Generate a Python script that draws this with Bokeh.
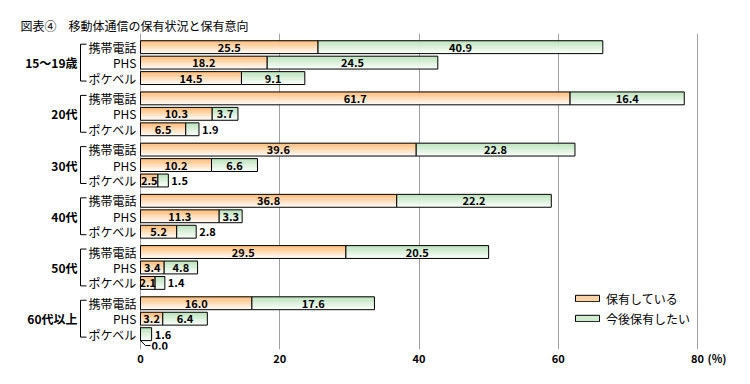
from bokeh.plotting import figure
from bokeh.models import Range1d, ColumnDataSource, Legend, LegendItem, FixedTicker
from bokeh.transform import dodge
from bokeh.core.properties import value
from bokeh.embed import file_html
from bokeh.resources import INLINE

# ---------------- data ----------------
chart_title = "図表④　移動体通信の保有状況と保有意向"
groups = ["15～19歳", "20代", "30代", "40代", "50代", "60代以上"]
devices = ["携帯電話", "PHS", "ポケベル"]
own = [[25.5, 18.2, 14.5], [61.7, 10.3, 6.5], [39.6, 10.2, 2.5],
       [36.8, 11.3, 5.2], [29.5, 3.4, 2.1], [16.0, 3.2, 0.0]]
want = [[40.9, 24.5, 9.1], [16.4, 3.7, 1.9], [22.8, 6.6, 1.5],
        [22.2, 3.3, 2.8], [20.5, 4.8, 1.4], [17.6, 6.4, 1.6]]
series_names = ["保有している", "今後保有したい"]
x_ticks = [0, 20, 40, 60, 80]
unit_label = "(%)"

# ---------------- layout ----------------
W, H = 734, 368
ZERO_PX = 140.0            # figure x of value 0
SCALE = 557.0 / 80.0       # px per %
PX = 1.0 / SCALE           # % per px
x_start = -ZERO_PX / SCALE
x_end = (W - ZERO_PX) / SCALE
FRAME_TOP, FRAME_BOT = 33.0, 352.0   # y data == page px
ROW0, GROUP_PITCH, ROW_PITCH, BAR_H = 46.8, 51.7, 15.6, 13.0
FONT = "Noto Sans CJK JP"
N_STRIPS = 9

def lerp(c1, c2, t):
    return "#%02x%02x%02x" % tuple(int(round(a + (b - a) * t)) for a, b in zip(c1, c2))

ORANGE = ((255, 188, 120), (255, 250, 244))
GREEN = ((188, 226, 188), (248, 253, 248))

p = figure(width=W, height=H, output_backend="svg", toolbar_location=None,
           x_range=Range1d(x_start, x_end), y_range=Range1d(FRAME_BOT, FRAME_TOP),
           min_border_left=0, min_border_right=0, min_border_top=int(FRAME_TOP),
           min_border_bottom=int(H - FRAME_BOT))
p.title.text = chart_title
p.title.align = "left"
p.title.offset = 20
p.title.standoff = 0
p.title.text_font = FONT
p.title.text_font_size = "12px"
p.title.text_font_style = "normal"
p.title.text_color = "black"

p.outline_line_color = None
p.yaxis.visible = False
p.ygrid.visible = False
unit_pos = x_ticks[-1] + 19.5 * PX
p.xaxis.ticker = FixedTicker(ticks=x_ticks + [unit_pos])
p.xaxis.major_label_overrides = {unit_pos: unit_label}
p.xgrid.ticker = FixedTicker(ticks=x_ticks)
p.xgrid.grid_line_color = "#a0a0a0"
p.xaxis.axis_line_color = None
p.xaxis.major_tick_line_color = None
p.xaxis.minor_tick_line_color = None
p.xaxis.major_tick_out = 0
p.xaxis.major_tick_in = 0
p.xaxis.major_label_standoff = 0
p.xaxis.major_label_text_font = FONT
p.xaxis.major_label_text_font_size = "11px"
p.xaxis.major_label_text_font_style = "bold"
p.xaxis.major_label_text_color = "black"

ys, own_v, want_v = [], [], []
for gi in range(len(groups)):
    for di in range(len(devices)):
        ys.append(ROW0 + gi * GROUP_PITCH + di * ROW_PITCH)
        own_v.append(own[gi][di])
        want_v.append(want[gi][di])

src_own = ColumnDataSource(dict(y=ys, left=[0.0] * len(ys), right=own_v))
src_want = ColumnDataSource(dict(y=ys, left=own_v, right=[a + b for a, b in zip(own_v, want_v)]))

legend_items = []
for src, cols, name in ((src_own, ORANGE, series_names[0]), (src_want, GREEN, series_names[1])):
    strips = []
    for k in range(N_STRIPS):
        off = -BAR_H / 2 + (k + 0.5) * BAR_H / N_STRIPS
        r = p.hbar(y=dodge("y", off), left="left", right="right", height=BAR_H / N_STRIPS + 0.4,
                   source=src, fill_color=lerp(cols[0], cols[1], k / (N_STRIPS - 1)), line_color=None)
        strips.append(r)
    outline = p.hbar(y="y", left="left", right="right", height=BAR_H, source=src,
                     fill_color=None, line_color="black", line_width=1)
    legend_items.append(LegendItem(label=name, renderers=[strips[3], outline]))

# value labels
in_x, in_y, in_t, out_x, out_y, out_t = [], [], [], [], [], []
zx, zy, zt, lx, ly = [], [], [], [], []
for y, o, w in zip(ys, own_v, want_v):
    if o > 0:
        in_x.append(o / 2); in_y.append(y); in_t.append("%.1f" % o)
    else:
        yl = y + 11.5
        zx.append(o + 10 * PX); zy.append(yl); zt.append("%.1f" % o)
        lx.append([o, o + 5 * PX, o + 10 * PX]); ly.append([y + BAR_H / 2, yl, yl])
    if w >= 3:
        in_x.append(o + w / 2); in_y.append(y); in_t.append("%.1f" % w)
    else:
        out_x.append(o + w); out_y.append(y); out_t.append("%.1f" % w)

p.text(x=in_x, y=in_y, text=in_t, text_align="center", text_baseline="middle",
       text_font=value(FONT), text_font_size="11px", text_font_style="bold", text_color="black")
p.text(x=out_x, y=out_y, text=out_t, text_align="left", text_baseline="middle", x_offset=3,
       text_font=value(FONT), text_font_size="11px", text_font_style="bold", text_color="black")
p.multi_line(xs=lx, ys=ly, line_color="black", line_width=1)
p.text(x=zx, y=zy, text=zt, text_align="left", text_baseline="middle", x_offset=1,
       text_font=value(FONT), text_font_size="11px", text_font_style="bold", text_color="black")

# category labels and group labels with brackets
cat_t = devices * len(groups)
p.text(x=[0.0] * len(ys), y=ys, text=cat_t, x_offset=-4, text_align="right", text_baseline="middle",
       text_font=value(FONT), text_font_size="12px", text_color="black")
g_mid = [ROW0 + gi * GROUP_PITCH + ROW_PITCH for gi in range(len(groups))]
p.text(x=[0.0] * len(groups), y=g_mid, text=groups, x_offset=-63, text_align="right", text_baseline="middle",
       text_font=value(FONT), text_font_size="12px", text_font_style="bold", text_color="black")
bx, by = [], []
for gm in g_mid:
    top, bot = gm - ROW_PITCH - 3, gm + ROW_PITCH + 3
    bx.append([-54 * PX, -60 * PX, -60 * PX, -54 * PX])
    by.append([top, top, bot, bot])
p.multi_line(xs=bx, ys=by, line_color="black", line_width=1)

legend = Legend(items=legend_items, location=(572, 21), orientation="vertical",
                glyph_width=30, glyph_height=8, label_height=20, label_standoff=4, spacing=0,
                padding=0, margin=0, border_line_color=None, background_fill_alpha=0,
                label_text_font=FONT, label_text_font_size="12px", label_text_color="black")
p.add_layout(legend)

open("out.html", "w").write(file_html(p, INLINE))
